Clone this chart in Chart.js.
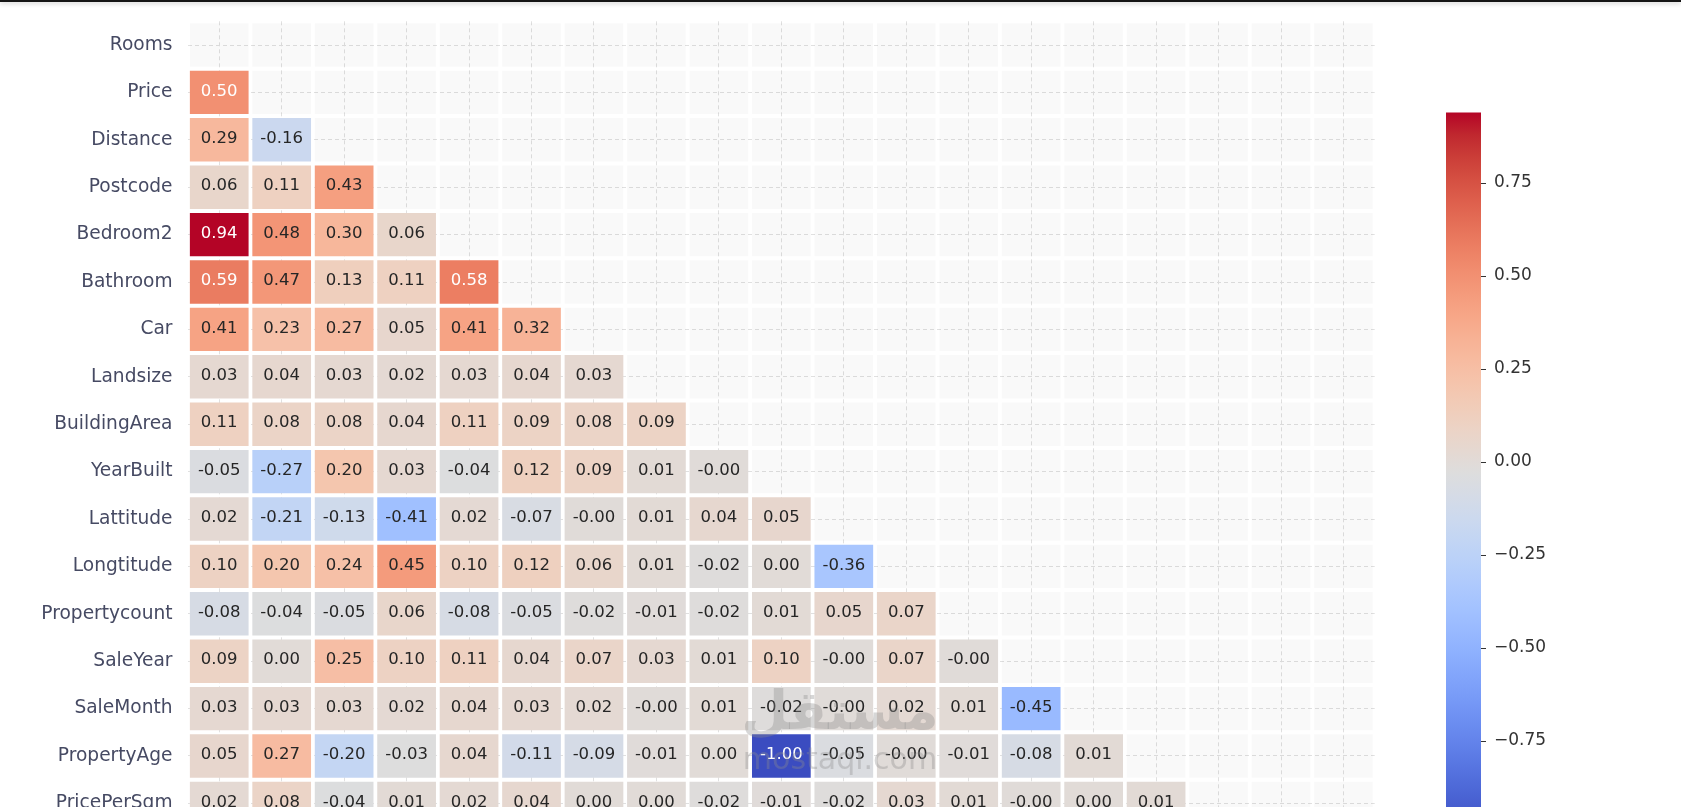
<!DOCTYPE html>
<html>
<head>
<meta charset="utf-8">
<script src="https://cdn.jsdelivr.net/npm/chart.js@4.4.0/dist/chart.umd.min.js"></script>
<style>
  html, body { margin: 0; padding: 0; background: #fff; overflow: hidden; width: 1681px; height: 807px; }
  #topbar { position: absolute; left: 0; top: 0; width: 1681px; height: 2px; background: #151515; box-shadow: 0 1px 5px rgba(0,0,0,0.3); z-index: 3; }
  #heat { position: absolute; left: 0; top: 0; }
  #cbar { position: absolute; left: 1400px; top: 0; }
  #mark { position: absolute; left: 730px; top: 680px; width: 220px; text-align: center; color: rgba(140,140,140,0.35); font-family: "DejaVu Sans", sans-serif; z-index: 2; pointer-events: none; }
  #mark .ar { font-size: 54px; font-weight: bold; line-height: 62px; }
  #mark .en { font-size: 30px; line-height: 34px; }
</style>
</head>
<body>
<div id="topbar"></div>
<canvas id="heat" width="1378" height="832"></canvas>
<canvas id="cbar" width="281" height="840"></canvas>
<div id="mark"><div class="ar">مستقل</div><div class="en">mostaql.com</div></div>
<script>
// row labels (the matrix has 19 variables, the last two rows are below the crop)
const rowLabels = ['Rooms', 'Price', 'Distance', 'Postcode', 'Bedroom2', 'Bathroom', 'Car', 'Landsize',
  'BuildingArea', 'YearBuilt', 'Lattitude', 'Longtitude', 'Propertycount', 'SaleYear', 'SaleMonth',
  'PropertyAge', 'PricePerSqm'];
const columnCount = 19;

// lower triangle of the correlation matrix, one array per row
const rooms = [];
const price = [0.50];
const distance = [0.29, -0.16];
const postcode = [0.06, 0.11, 0.43];
const bedroom2 = [0.94, 0.48, 0.30, 0.06];
const bathroom = [0.59, 0.47, 0.13, 0.11, 0.58];
const car = [0.41, 0.23, 0.27, 0.05, 0.41, 0.32];
const landsize = [0.03, 0.04, 0.03, 0.02, 0.03, 0.04, 0.03];
const buildingArea = [0.11, 0.08, 0.08, 0.04, 0.11, 0.09, 0.08, 0.09];
const yearBuilt = [-0.05, -0.27, 0.20, 0.03, -0.04, 0.12, 0.09, 0.01, -0.004];
const lattitude = [0.02, -0.21, -0.13, -0.41, 0.02, -0.07, -0.004, 0.01, 0.04, 0.05];
const longtitude = [0.10, 0.20, 0.24, 0.45, 0.10, 0.12, 0.06, 0.01, -0.02, 0.00, -0.36];
const propertycount = [-0.08, -0.04, -0.05, 0.06, -0.08, -0.05, -0.02, -0.01, -0.02, 0.01, 0.05, 0.07];
const saleYear = [0.09, 0.00, 0.25, 0.10, 0.11, 0.04, 0.07, 0.03, 0.01, 0.10, -0.004, 0.07, -0.004];
const saleMonth = [0.03, 0.03, 0.03, 0.02, 0.04, 0.03, 0.02, -0.004, 0.01, -0.02, -0.004, 0.02, 0.01, -0.45];
const propertyAge = [0.05, 0.27, -0.20, -0.03, 0.04, -0.11, -0.09, -0.01, 0.00, -1.00, -0.05, -0.004, -0.01, -0.08, 0.01];
const pricePerSqm = [0.02, 0.08, -0.04, 0.01, 0.02, 0.04, 0.00, 0.00, -0.02, -0.01, -0.02, 0.03, 0.01, -0.004, 0.00, 0.01];

const corr = [rooms, price, distance, postcode, bedroom2, bathroom, car, landsize, buildingArea,
  yearBuilt, lattitude, longtitude, propertycount, saleYear, saleMonth, propertyAge, pricePerSqm];

const colorbarTicks = [-0.75, -0.50, -0.25, 0.00, 0.25, 0.50, 0.75];

const vmin = Math.min(...corr.flat());
const vmax = Math.max(...corr.flat());

// matplotlib coolwarm, 33 samples
const coolwarmStops = [
  [59,76,192], [68,90,204], [77,104,215], [87,117,225], [98,130,234], [108,142,241], [119,154,247],
  [130,165,251], [141,176,254], [152,185,255], [163,194,255], [174,201,253], [184,208,249],
  [194,213,244], [204,217,238], [213,219,230], [221,221,221], [229,216,209], [236,211,197],
  [241,204,184], [245,196,172], [247,187,160], [247,177,148], [247,166,135], [244,154,123],
  [241,141,111], [236,127,99], [229,112,88], [222,96,77], [213,80,66], [203,62,56], [192,40,47],
  [180,4,38]
];

function coolwarm(v) {
  let t = Math.min(1, Math.max(0, (v - vmin) / (vmax - vmin))) * (coolwarmStops.length - 1);
  let k = Math.min(Math.floor(t), coolwarmStops.length - 2);
  let f = t - k;
  let a = coolwarmStops[k], b = coolwarmStops[k + 1];
  return a.map((c, n) => Math.round(c + (b[n] - c) * f));
}

// same rule seaborn uses to pick the annotation colour
function textColor(v) {
  let l = coolwarm(v).map(c => {
    c = c / 255;
    return c <= 0.03928 ? c / 12.92 : Math.pow((c + 0.055) / 1.055, 2.4);
  });
  let lum = 0.2126 * l[0] + 0.7152 * l[1] + 0.0722 * l[2];
  return lum > 0.408 ? '#262626' : '#ffffff';
}

const columns = Array.from({length: columnCount}, (_, j) => j);
const cellGap = 0.03;

const valueSets = columns.map(j => ({
  data: corr.map(row => j < row.length ? [j + cellGap, j + 1 - cellGap] : null),
  backgroundColor: corr.map(row => j < row.length ? 'rgb(' + coolwarm(row[j]) + ')' : 'transparent'),
  values: corr.map(row => row[j]),
  order: 0
}));

const maskSets = columns.map(j => ({
  data: corr.map(row => j >= row.length ? [j + cellGap, j + 1 - cellGap] : null),
  backgroundColor: 'rgba(0,0,0,0.025)',
  order: 1
}));

const cellText = {
  id: 'cellText',
  afterDatasetsDraw(chart) {
    let ctx = chart.ctx;
    ctx.save();
    ctx.font = '16.5px "DejaVu Sans"';
    ctx.textAlign = 'center';
    ctx.textBaseline = 'middle';
    chart.data.datasets.forEach((ds, d) => {
      if (!ds.values) return;
      chart.getDatasetMeta(d).data.forEach((bar, i) => {
        let v = ds.values[i];
        if (v === undefined) return;
        let c = bar.getCenterPoint();
        ctx.fillStyle = textColor(v);
        ctx.fillText(v.toFixed(2), c.x, c.y - 1);
      });
    });
    ctx.restore();
  }
};

new Chart(document.getElementById('heat'), {
  type: 'bar',
  data: { labels: rowLabels, datasets: [...valueSets, ...maskSets] },
  options: {
    indexAxis: 'y',
    responsive: false,
    animation: false,
    layout: { padding: { top: 21.3, right: 3.3, bottom: 4.9, left: 0 } },
    datasets: { bar: { grouped: false, categoryPercentage: 1, barPercentage: 0.916, borderWidth: 0 } },
    plugins: { legend: { display: false }, tooltip: { enabled: false } },
    scales: {
      x: {
        type: 'linear', min: 0, max: columnCount,
        afterBuildTicks: s => { s.ticks = columns.map(j => ({value: j + 0.5})); },
        afterFit: s => { s.height = 0; s.paddingLeft = 0; s.paddingRight = 0; },
        ticks: { display: false },
        grid: { color: '#e0e0e0', drawTicks: false },
        border: { display: false, dash: [4, 3] }
      },
      y: {
        afterFit: s => { s.width = 188; s.paddingTop = 0; s.paddingBottom = 0; },
        ticks: { padding: 15.5, color: '#464a63', font: { family: 'DejaVu Sans', size: 18.6 } },
        grid: { offset: false, color: '#e0e0e0', drawTicks: false },
        border: { display: false, dash: [4, 3] }
      }
    }
  },
  plugins: [cellText]
});

function colorbarFill(chart) {
  let y = chart.scales.y;
  if (!y || !chart.chartArea) return 'transparent';
  let y0 = y.getPixelForValue(vmin), y1 = y.getPixelForValue(vmax);
  if (!isFinite(y0) || !isFinite(y1)) return 'transparent';
  let g = chart.ctx.createLinearGradient(0, y0, 0, y1);
  coolwarmStops.forEach((c, k) => g.addColorStop(k / (coolwarmStops.length - 1), 'rgb(' + c + ')'));
  return g;
}

new Chart(document.getElementById('cbar'), {
  type: 'bar',
  data: {
    labels: [''],
    datasets: [{ data: [[vmin, vmax]], backgroundColor: ctx => colorbarFill(ctx.chart),
      borderWidth: 0, barPercentage: 1, categoryPercentage: 1 }]
  },
  options: {
    responsive: false,
    animation: false,
    layout: { padding: { left: 46, top: 112.4, bottom: 6, right: 0 } },
    plugins: { legend: { display: false }, tooltip: { enabled: false } },
    scales: {
      x: { display: false },
      y: {
        position: 'right', min: vmin, max: vmax,
        afterBuildTicks: s => { s.ticks = colorbarTicks.map(v => ({value: v})); },
        afterFit: s => { s.width = 200; s.paddingTop = 0; s.paddingBottom = 0; },
        ticks: { padding: 8, color: '#333', font: { family: 'DejaVu Sans', size: 17 },
          callback: v => v.toFixed(2).replace('-', '\u2212') },
        grid: { drawOnChartArea: false, drawTicks: true, tickLength: 5, color: '#333' },
        border: { display: false }
      }
    }
  }
});
</script>
</body>
</html>
